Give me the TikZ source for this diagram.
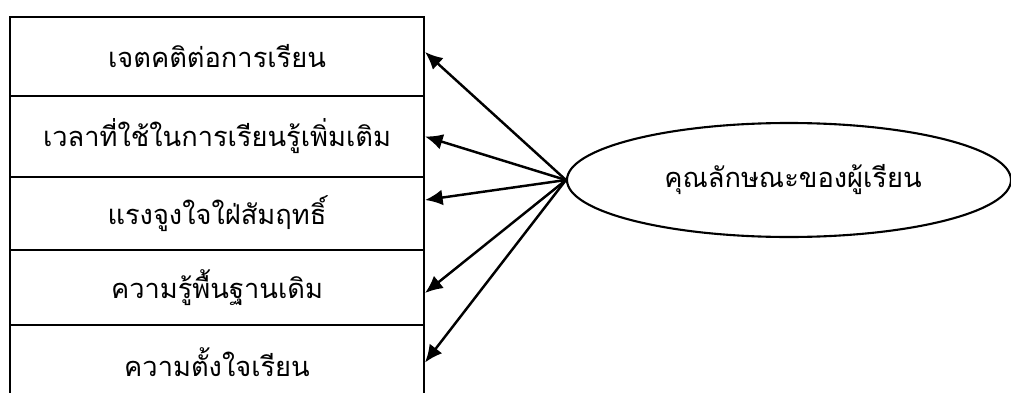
\documentclass[tikz,border=0pt]{standalone}
\usepackage{fontspec}
\newfontfamily\thaifont[Script=Thai]{Loma}
\usetikzlibrary{arrows.meta}
\usetikzlibrary{shapes.geometric}

\begin{document}
\begin{tikzpicture}[
    factor/.style={draw, line width=1.2pt, minimum width=8.28cm, inner sep=0pt, font=\thaifont\fontsize{15.5}{18}\selectfont},
    trait/.style={draw, line width=1.2pt, ellipse, minimum width=8.88cm, minimum height=2.28cm, inner sep=0pt, font=\thaifont\fontsize{15.5}{18}\selectfont},
    link/.style={line width=1.4pt, {Latex[length=10pt,width=9pt]}-}
  ]
          \clip (0, 0) rectangle (20.22, 7.84);
          \node[factor, minimum height=1.58cm] (attitude) at (4.34, 6.71) {เจตคติต่อการเรียน};
          \node[factor, minimum height=1.62cm] (time) at (4.34, 5.11) {เวลาที่ใช้ในการเรียนรู้เพิ่มเติม};
          \node[factor, minimum height=1.46cm] (motive) at (4.34, 3.57) {แรงจูงใจใฝ่สัมฤทธิ์};
          \node[factor, minimum height=1.50cm] (prior) at (4.34, 2.09) {ความรู้พื้นฐานเดิม};
          \node[factor, minimum height=1.50cm] (intent) at (4.34, 0.59) {ความตั้งใจเรียน};
          %
          \node[trait] (learner) at (15.78, 4.24) {\hspace{0.16cm}คุณลักษณะของผู้เรียน};
          %
          \draw[link] ([yshift=0.09cm]attitude.east) -- (learner.west);
          \draw[link] (time.east) -- (learner.west);
          \draw[link] ([yshift=0.27cm]motive.east) -- (learner.west);
          \draw[link] ([yshift=-0.11cm]prior.east) -- (learner.west);
          \draw[link] (intent.east) -- (learner.west);
        \end{tikzpicture}
\end{document}
